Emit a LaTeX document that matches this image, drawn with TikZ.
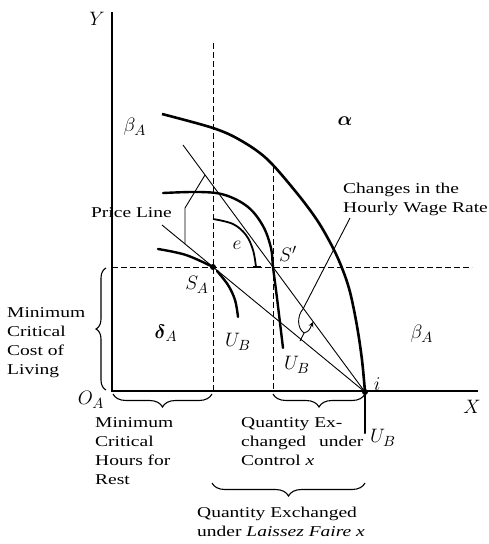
\documentclass[tikz,border=0pt]{standalone}
\usepackage{amsmath}
\usepackage{fontspec}
\setmainfont{Liberation Serif}[FakeStretch=1.3]
\usetikzlibrary{decorations.pathreplacing,arrows.meta}
\newcommand\mlb[1]{\scalebox{1.35}{$#1$}}
\begin{document}
\begin{tikzpicture}[x=1pt,y=-1pt,
  every node/.style={font=\fontsize{15}{19}\selectfont, inner sep=0pt},
  thickc/.style={line width=2.4pt, line cap=round},
  axis/.style={line width=1.4pt},
  thinl/.style={line width=0.9pt},
  dsh/.style={line width=0.9pt, dash pattern=on 5.5pt off 3.5pt},
  brc/.style={decorate, decoration={brace, amplitude=#1}, line width=1.1pt},
  lbl/.style={align=left, anchor=north west},
  dotn/.style={circle, fill, minimum size=6pt}]
\useasboundingbox (0,0) rectangle (489,544);
% key points
\coordinate (O) at (112,391);
\coordinate (Ytop) at (112,12);
\coordinate (Xend) at (478,391);
\coordinate (V1top) at (213,43);
\coordinate (V1bot) at (213,391);
\coordinate (V2top) at (273,167);
\coordinate (V2bot) at (273,391);
\coordinate (Hl) at (112,267);
\coordinate (Hr) at (472,267);
\coordinate (P1) at (183,145);
\coordinate (P2) at (162,225);
\coordinate (UBend) at (365,433);
% axes
\draw[axis] (Ytop) -- (O) -- (Xend);
% dashed guides
\draw[dsh] (V1top) -- (V1bot);
\draw[dsh] (V2top) -- (V2bot);
\draw[dsh] (Hl) -- (Hr);
% points
\node[dotn] (SA) at (213,267) {};
\node[dotn] (I) at (365,392) {};
\coordinate (Sp) at (273,267);
% price lines
\draw[thinl] (I.center) -- (P1);
\draw[thinl] (I.center) -- (P2);
% production frontier
\draw[line width=2.6pt] plot[smooth, tension=0.55] coordinates {(162,114) (213,128) (240,140) (267,159) (296,192) (317,220) (332,246) (342,268) (350,292) (357,326) (362,360) (365,392)};
% indifference curves
\draw[thickc] plot[smooth, tension=0.6] coordinates {(163,193) (200,192) (225,195) (248,207) (263,226) (271,248) (273,267) (277,298) (283,348)};
\draw[line width=1.8pt] plot[smooth, tension=0.6] coordinates {(213,219) (233,224) (246,235) (253,250) (256,267)};
\draw[line width=1.8pt] (253,267) -- (261,267);
\draw[thickc] plot[smooth, tension=0.6] coordinates {(158,249) (186,255) (213,267)};
\draw[thickc] plot[smooth, tension=0.6] coordinates {(217,271) (228,285) (235,300) (238,317)};
\draw[thickc] (I.center) -- (UBend);
% price line leader
\coordinate (pla) at (185,244);
\coordinate (plb) at (185,208);
\coordinate (plc) at (205,175);
\draw[thinl] (pla) -- (plb) -- (plc);
% wage rate leader and angle mark
\coordinate (wa) at (350,218);
\coordinate (wb) at (303,309);
\coordinate (wc) at (304,333);
\coordinate (wd) at (300,341);
\coordinate (we) at (313,322);
\draw[thinl] (wa) -- (wb) .. controls (297,316) and (297,328) .. (wc) -- (wd);
\draw[thinl, -{Stealth[length=5pt,width=5pt]}] (wc) .. controls (309,331) .. (we);
% braces
\draw[brc=10pt] (106,390) -- (106,268);
\draw[brc=13pt] (212,394) -- (113,394);
\draw[brc=13pt] (365,394) -- (273,394);
\draw[brc=13pt] (365,483) -- (212,483);
% labels
\node (Ylab) at (97,19) {\mlb{Y}};
\node (Xlab) at (472,407) {\mlb{X}};
\node (OA) at (91,400) {\mlb{O_A}};
\node (bA1) at (135,127) {\mlb{\beta_A}};
\node (bA2) at (422,334) {\mlb{\beta_A}};
\node (al) at (345,121) {\mlb{\boldsymbol{\alpha}}};
\node (dA) at (166,333) {\mlb{\boldsymbol{\delta}_A}};
\node (el) at (237,245) {\mlb{e}};
\node (SpL) at (288,254) {\mlb{S'}};
\node (SAL) at (197,285) {\mlb{S_A}};
\node (UB1) at (238,342) {\mlb{U_B}};
\node (UB2) at (297,365) {\mlb{U_B}};
\node (UB3) at (383,438) {\mlb{U_B}};
\node (il) at (377,384) {\mlb{i}};
\node[lbl] (mccl) at (7,307) {Minimum\\Critical\\Cost of\\Living};
\node[lbl] (mchr) at (95,417) {Minimum\\Critical\\Hours for\\Rest};
\node[lbl] (qec) at (241,417) {Quantity Ex-\\changed\hspace{8pt} under\\Control \textit{x}};
\node[lbl] (qelf) at (197,507) {Quantity Exchanged\\under \textit{Laissez Faire x}};
\node[lbl] (chw) at (343,183) {Changes in the\\Hourly Wage Rate};
\node[anchor=north east] (pl) at (172,207) {Price Line};
\end{tikzpicture}
\end{document}
